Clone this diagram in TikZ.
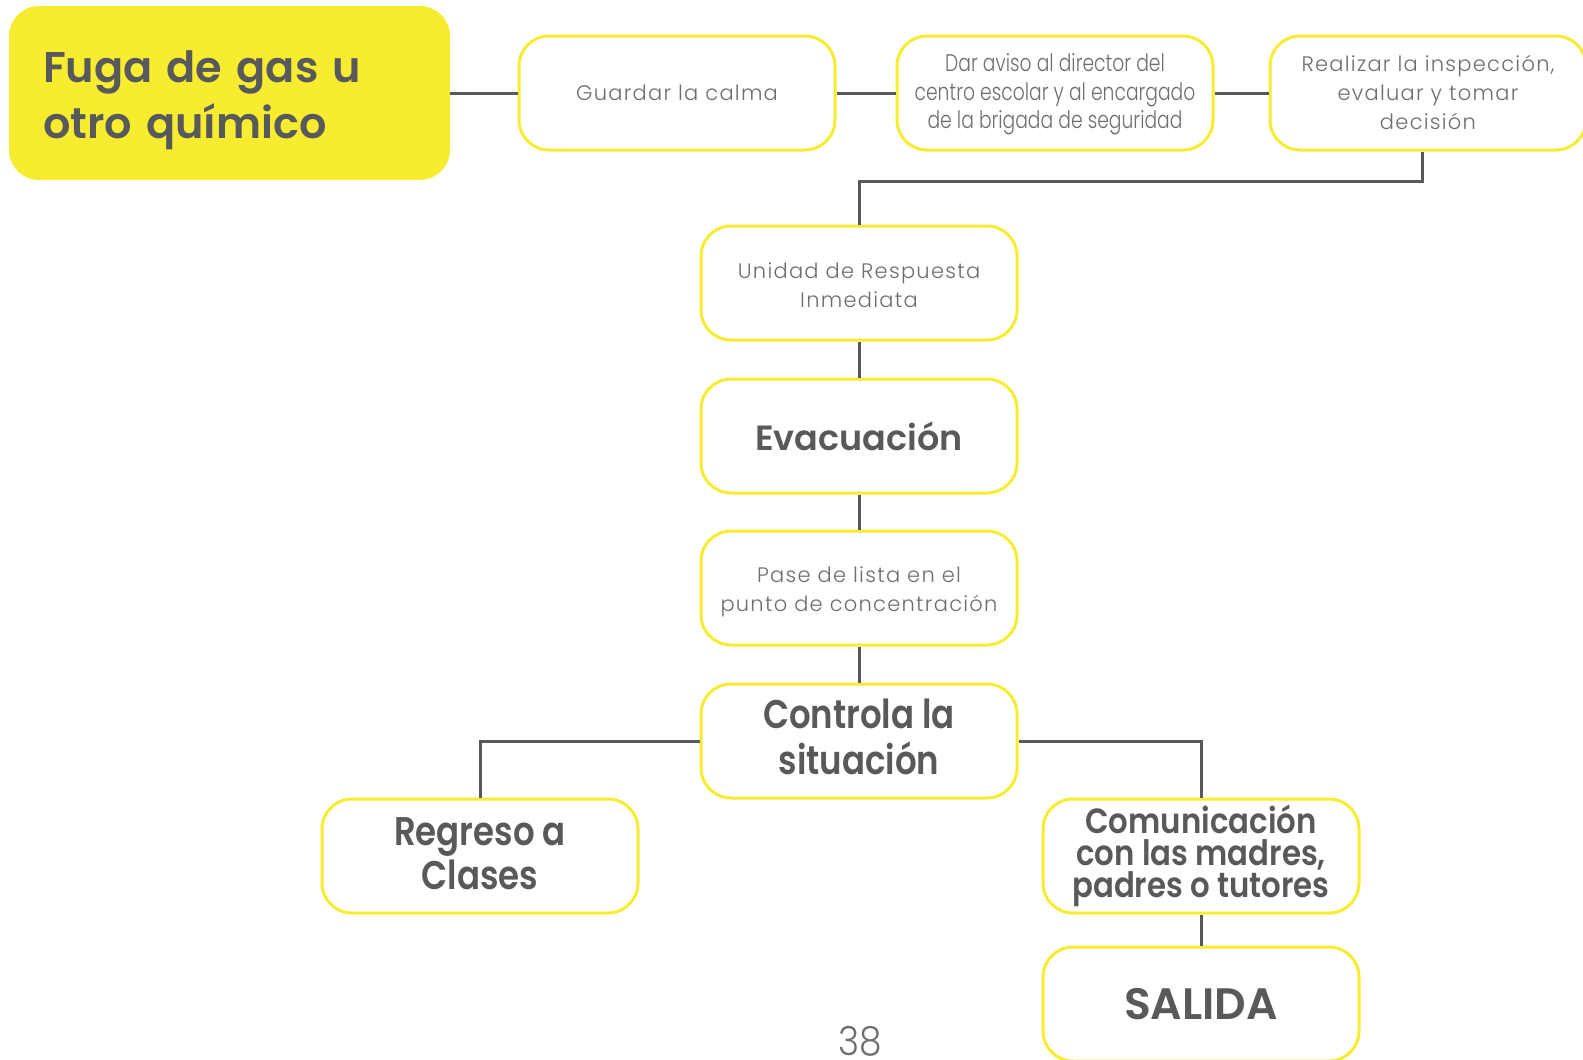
\documentclass[tikz,border=0pt]{standalone}
\usepackage{fontspec}
\setmainfont{Poppins}
\newfontfamily\lightsp{Poppins Light}[LetterSpace=6]
\newfontfamily\lightc{Poppins Light}[FakeStretch=0.78]
\newfontfamily\lightn{Poppins Light}[FakeStretch=0.9]
\newfontfamily\boldf{Poppins SemiBold}
\newfontfamily\boldc{Poppins SemiBold}[FakeStretch=0.85]
\newfontfamily\boldcc{Poppins SemiBold}[FakeStretch=0.88]
\newcommand\mlines[3][c]{\raisebox{0pt}[\dimexpr\height+#2\relax][\depth]{\begin{tabular}{@{}#1@{}}#3\end{tabular}}}
\definecolor{ylw}{HTML}{F8EC31}
\definecolor{gry}{HTML}{58595B}
\definecolor{lgry}{HTML}{6D6E71}
\tikzset{
  box/.style={draw=ylw, line width=3pt, rounded corners=30pt, fill=white,
    minimum width=316pt, minimum height=114pt, align=center, inner sep=4pt},
  lt/.style={box, text=lgry, font=\lightsp\fontsize{21}{29}\selectfont},
  ltc/.style={box, text=lgry, font=\lightc\fontsize{24}{28.5}\selectfont},
  bd/.style={box, text=gry, font=\boldf\fontsize{35}{44}\selectfont},
  bdc/.style={box, text=gry, font=\boldc\fontsize{40}{44}\selectfont},
  link/.style={draw=gry, line width=3pt}
}
\begin{document}
\begin{tikzpicture}[x=1pt,y=-1pt]
\useasboundingbox (0,0) rectangle (1583,1060);
\coordinate (j1) at (1422,181);
\coordinate (j2) at (859,181);
\node[fill=ylw, rounded corners=30pt, minimum width=441pt, minimum height=174pt,
  text width=373pt, inner xsep=34pt, align=left, text=gry,
  font=\boldf\fontsize{43}{55.5}\selectfont] (title) at (229.5,93)
  {\mlines[l]{13pt}{Fuga de gas u\\otro químico}};
\node[lt] (guardar) at (677,93) {Guardar la calma};
\node[ltc] (dar) at (1055,93) {\mlines{3pt}{Dar aviso al director del\\centro escolar y al encargado\\de la brigada de seguridad}};
\node[lt] (real) at (1428,93) {\mlines{4pt}{Realizar la inspección,\\evaluar y tomar\\decisión}};
\node[lt] (uri) at (859,283) {\mlines{8pt}{Unidad de Respuesta\\Inmediata}};
\node[bd] (evac) at (859,436) {Evacuación};
\node[lt] (pase) at (859,588) {\mlines{7pt}{Pase de lista en el\\punto de concentración}};
\node[bdc] (ctrl) at (859,741) {\mlines{4pt}{Controla la\\situación}};
\node[bdc] (reg) at (480,856) {\mlines{5pt}{Regreso a\\Clases}};
\node[box, text=gry, font=\boldcc\fontsize{35}{32.5}\selectfont] (com) at (1201,856) {\mlines{0pt}{Comunicación\\[-3.5pt]con las madres,\\[-3.5pt]padres o tutores}};
\node[bd, font=\boldf\fontsize{44}{44}\selectfont] (sal) at (1201,1004) {SALIDA};
\node[text=lgry, inner sep=0pt, font=\lightn\fontsize{40}{40}\selectfont] (pg) at (860,1041) {38};
\draw[link] (title.east) -- (guardar.west);
\draw[link] (guardar.east) -- (dar.west);
\draw[link] (dar.east) -- (real.west);
\draw[link] (real.south -| j1) -- (j1) -- (j2) -- (uri.north);
\draw[link] (uri.south) -- (evac.north);
\draw[link] (evac.south) -- (pase.north);
\draw[link] (pase.south) -- (ctrl.north);
\draw[link] (ctrl.west) -- (ctrl.west -| reg.north) -- (reg.north);
\draw[link] (ctrl.east) -- (ctrl.east -| com.north) -- (com.north);
\draw[link] (com.south) -- (sal.north);
\end{tikzpicture}
\end{document}
